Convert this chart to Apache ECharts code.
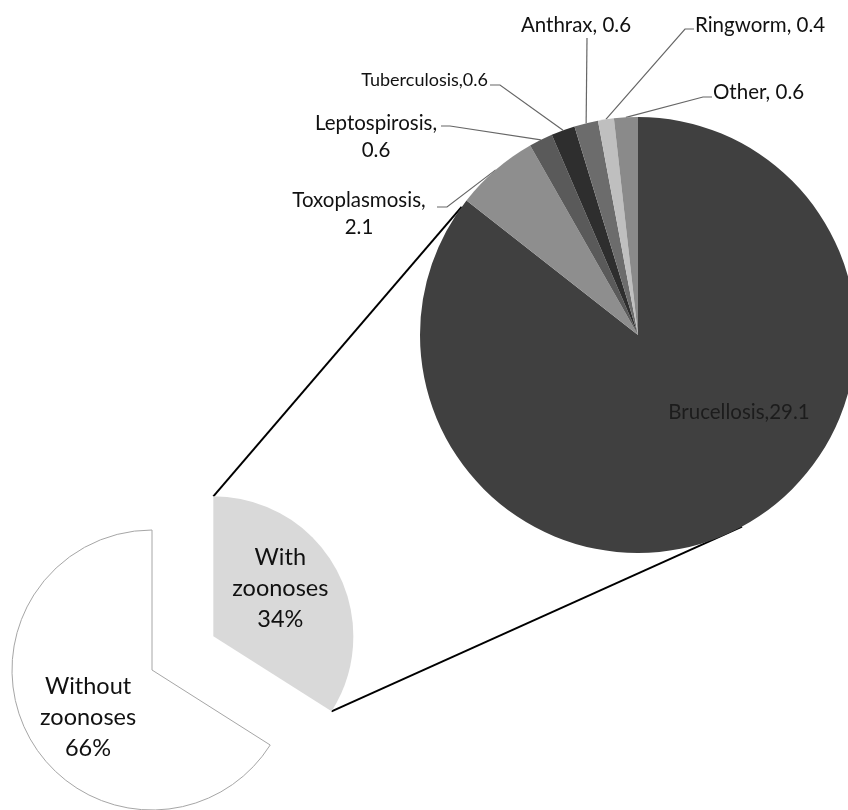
<!DOCTYPE html>
<html><head><meta charset="utf-8">
<script src="https://cdn.jsdelivr.net/npm/echarts@6/dist/echarts.min.js"></script>
<style>html,body{margin:0;padding:0;background:#fff}#c{width:848px;height:810px}</style>
</head><body><div id="c"></div>
<script>
// ---- data ----
const outerNames = ['With zoonoses', 'Without zoonoses'];
const outerValues = [34, 66];
const diseaseNames = ['Brucellosis', 'Toxoplasmosis', 'Leptospirosis', 'Tuberculosis', 'Anthrax', 'Ringworm', 'Other'];
const diseaseValues = [29.1, 2.1, 0.6, 0.6, 0.6, 0.4, 0.6];
const labelSeparators = [',', ',\n', ',\n', ',', ', ', ', ', ', '];

// ---- layout / style ----
const SMALL = { cx: 152, cy: 670, r: 140, offset: 70 };
const BIG = { cx: 638, cy: 335, r: 218 };
const CONNECT_ANGLES = [144, -61.5];
const diseaseColors = ['#404040', '#8e8e8e', '#5a5a5a', '#2e2e2e', '#6c6c6c', '#bfbfbf', '#8a8a8a'];
const FONT = 'Lato';
const labelPlace = [
  { x: 739, y: 412, align: 'center' },
  { x: 359, y: 214, align: 'center', line: [[447, 207], [437, 207]] },
  { x: 376, y: 137, align: 'center', line: [[450, 126], [441, 126]] },
  { x: 488, y: 80, align: 'right', line: [[500, 85], [490, 85]] },
  { x: 576, y: 25, align: 'center', line: [[587, 38], [587, 38]] },
  { x: 695, y: 25, align: 'left', line: [[685, 29], [694, 29]] },
  { x: 713, y: 92, align: 'left', line: [[703, 97], [712, 97]] }
];

const rad = d => d * Math.PI / 180;
// mid angles of disease slices (clockwise from 12 o'clock)
const dTotal = diseaseValues.reduce((a, b) => a + b, 0);
const midAngles = [];
{
  let acc = 90;
  diseaseValues.forEach(v => {
    const span = 360 * v / dTotal;
    midAngles.push(acc - span / 2);
    acc -= span;
  });
}
const edgePoint = (i) => [BIG.cx + BIG.r * Math.cos(rad(midAngles[i])), BIG.cy - BIG.r * Math.sin(rad(midAngles[i]))];

// exploded slice corners
const oTotal = outerValues.reduce((a, b) => a + b, 0);
const withEnd = 90 - 360 * outerValues[0] / oTotal;
const withMid = (90 + withEnd) / 2;
const oc = [SMALL.cx + SMALL.offset * Math.cos(rad(withMid)), SMALL.cy - SMALL.offset * Math.sin(rad(withMid))];
const corner1 = [oc[0] + SMALL.r * Math.cos(rad(90)), oc[1] - SMALL.r * Math.sin(rad(90))];
const corner2 = [oc[0] + SMALL.r * Math.cos(rad(withEnd)), oc[1] - SMALL.r * Math.sin(rad(withEnd))];
const bigPt = a => [BIG.cx + BIG.r * Math.cos(rad(a)), BIG.cy - BIG.r * Math.sin(rad(a))];
const end1 = bigPt(CONNECT_ANGLES[0]);
const end2 = bigPt(CONNECT_ANGLES[1]);

const chart = echarts.init(document.getElementById('c'), null, { renderer: 'canvas' });
chart.setOption({
  backgroundColor: '#fff',
  animation: false,
  graphic: [
    { type: 'line', z: 1, shape: { x1: corner1[0], y1: corner1[1], x2: end1[0], y2: end1[1] }, style: { stroke: '#000', lineWidth: 2 } },
    { type: 'line', z: 1, shape: { x1: corner2[0], y1: corner2[1], x2: end2[0], y2: end2[1] }, style: { stroke: '#000', lineWidth: 2 } }
  ],
  series: [
    {
      type: 'pie',
      center: [SMALL.cx, SMALL.cy],
      radius: [0, SMALL.r],
      startAngle: 90,
      clockwise: true,
      selectedMode: 'single',
      selectedOffset: SMALL.offset,
      avoidLabelOverlap: false,
      emphasis: { disabled: true },
      data: outerNames.map((n, i) => ({
        name: n, value: outerValues[i], selected: i === 0,
        itemStyle: i === 0 ? { color: '#d9d9d9', borderWidth: 0 } : { color: '#ffffff', borderColor: '#a6a6a6', borderWidth: 1 }
      })),
      label: {
        position: 'inside',
        formatter: p => p.name.replace(' ', '\n') + '\n' + p.value + '%',
        fontFamily: FONT, fontSize: 23.5, lineHeight: 31, color: '#111'
      },
      labelLine: { show: false },
      labelLayout: p => (p.dataIndex === 0 ? { dy: -13, dx: 3 } : { dy: 12 })
    },
    {
      type: 'pie',
      center: [BIG.cx, BIG.cy],
      radius: [0, BIG.r],
      startAngle: 90,
      clockwise: true,
      avoidLabelOverlap: false,
      emphasis: { disabled: true },
      data: diseaseNames.map((n, i) => ({
        name: n, value: diseaseValues[i],
        itemStyle: { color: diseaseColors[i], borderWidth: 0 },
        label: i === 0 ? { position: 'inside', color: '#1c1c1c', fontSize: 20.5 } : (i === 3 ? { fontSize: 18 } : {}),
        labelLine: i === 0 ? { show: false } : {}
      })),
      label: {
        position: 'outside',
        formatter: p => p.name + labelSeparators[p.dataIndex] + p.value,
        fontFamily: FONT, fontSize: 20.5, lineHeight: 27, color: '#111'
      },
      labelLine: { show: true, length: 10, length2: 10, lineStyle: { color: '#666', width: 1.2 } },
      labelLayout: function (p) {
        const lp = labelPlace[p.dataIndex];
        const out = { x: lp.x, y: lp.y, align: lp.align, verticalAlign: 'middle' };
        if (lp.line) out.labelLinePoints = [edgePoint(p.dataIndex), lp.line[0], lp.line[1]];
        return out;
      }
    }
  ]
});
</script>
</body></html>
